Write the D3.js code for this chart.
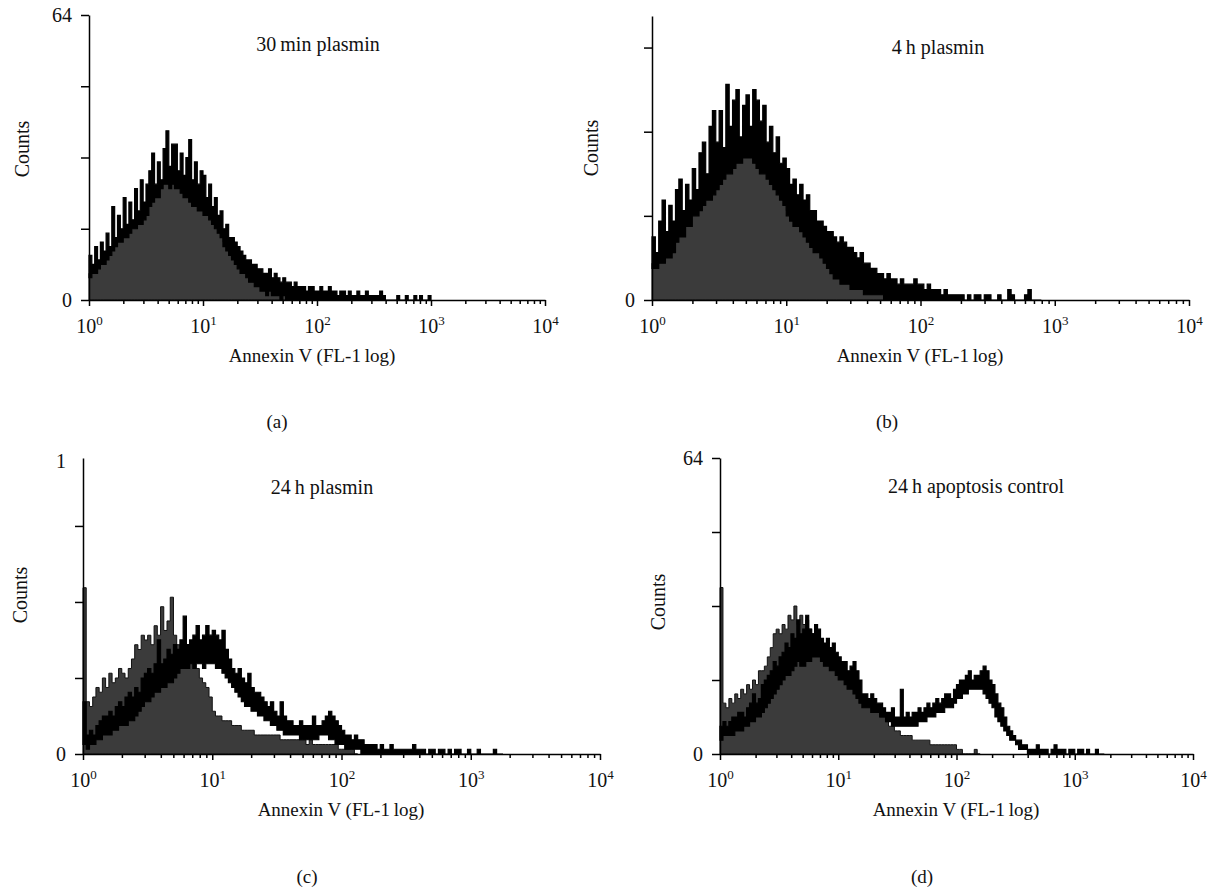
<!DOCTYPE html>
<html>
<head>
<meta charset="utf-8">
<script src="https://cdn.jsdelivr.net/npm/d3@7"></script>
<style>
  body { margin: 0; background: #fff; }
  svg text { font-family: "Liberation Serif", "Times New Roman", serif; fill: #111; }
</style>
</head>
<body>
<svg id="chart" width="1211" height="888"></svg>
<script>
// histogram channels: 40 bins per decade, bin i starts at 10^(i/40)
var binsPerDecade = 40;

// (a) 30 min plasmin
var aFill = [6,7,6,8,9,9,10,11,12,13, 14,14,15,16,16,17,17,18,18,19,
  21,22,23,24,25,26,27,27,27,27, 26,26,25,24,24,23,22,22,21,21,
  20,20,19,18,17,16,15,13,12,11, 10,9,8,7,7,6,5,5,4,4,
  3,3,2,3,2,2,2,1,2,1, 1,1,2,1,1,1,0,1,1,0, 1,0,0,1,0];
var aLineLo = [5,6,6,7,8,8,9,10,11,12, 13,13,14,14,15,16,16,17,17,18,
  19,21,22,23,23,25,26,26,25,26, 25,25,24,23,23,22,21,21,20,20,
  19,19,18,17,16,15,14,12,11,10, 9,8,7,6,6,5,4,4,3,3,
  2,2,1,2,1,1,1,0,1,0];
var aLineHi = [10,8,12,9,13,11,15,12,21,14, 19,16,23,17,22,18,25,20,27,22,
  26,29,33,26,31,27,34,38,30,35, 35,29,33,28,32,36,27,31,26,29,
  28,23,26,21,23,19,20,16,17,14, 14,13,12,11,10,9,9,8,8,7,
  7,6,6,7,5,6,5,4,5,4, 4,3,4,3,3,3,2,3,3,2,
  2,3,2,2,3,2,2,1,2,2, 1,2,1,1,2,1,1,2,1,1,
  1,1,2,1,0,0,0,0,1,0, 0,1,0,0,1,0,1,0,0,1];

// (b) 4 h plasmin
var bFill = [7,7,8,8,9,9,11,12,13,14, 15,16,17,17,18,19,20,20,21,22,
  23,24,25,26,26,27,28,28,28,28, 27,26,26,25,24,23,22,21,20,19,
  17,16,15,15,14,13,12,11,10,10, 9,8,7,6,5,5,4,4,4,3,
  3,3,3,2,2,2,2,2,2,1, 1,1,1,1,1,1,1,1,0,1, 0,1,0,0,0];
var bLineLo = [6,6,7,7,8,8,9,11,12,12, 14,14,16,16,17,18,19,19,20,21,
  22,23,24,24,25,26,26,27,27,27, 26,25,24,24,23,22,21,20,19,18,
  16,15,14,14,13,12,11,10,9,9, 8,7,6,5,4,4,3,3,3,2,
  2,2,2,1,1,1,1,1,1,0];
var bLineHi = [12,9,15,19,13,18,15,21,23,17, 22,19,25,21,28,30,24,33,36,30,
  36,29,41,33,38,40,31,37,39,33, 40,38,34,37,30,33,28,31,26,27,
  25,22,23,20,22,19,20,17,17,15, 15,14,13,13,12,11,12,11,10,10,
  9,8,9,7,7,6,6,5,5,4, 5,4,4,3,4,3,3,3,4,3,
  3,2,3,2,2,2,1,2,1,1, 1,1,1,0,1,0,1,1,0,1,
  1,0,0,1,0,0,2,1,0,0, 0,1,2,0,0,0];

// (c) 24 h plasmin
var cFill = [35,11,10,12,14,13,16,14,17,15, 16,18,17,16,18,20,23,22,25,24,
  25,23,27,25,31,26,28,33,25,23, 21,22,20,20,19,18,16,15,14,12,
  9,8,8,7,7,7,6,6,6,5, 5,5,5,4,4,4,4,4,4,4,
  4,3,3,3,3,3,3,3,3,2, 3,2,2,2,2,2,2,2,2,1, 1,1,1,1,0];
var cLineLo = [2,1,2,2,3,3,4,4,4,5, 5,6,6,6,7,7,8,9,10,11,
  11,12,13,13,14,14,15,15,16,17, 18,18,18,19,18,19,19,18,19,19,
  19,18,18,17,16,15,14,13,12,11, 10,10,9,9,8,8,7,7,6,6,
  5,5,4,4,4,4,4,3,3,3, 3,3,3,4,4,4,3,3,2,2, 2,1,1,1,1,1,0];
var cLineHi = [11,4,5,4,6,7,8,8,9,8, 10,11,10,12,13,12,14,13,16,17,
  18,17,19,24,19,20,22,21,23,22, 24,29,23,24,25,27,24,25,27,25,
  26,25,24,26,22,20,18,17,18,16, 15,17,14,13,13,12,11,10,11,9,
  8,11,8,7,7,6,6,7,6,6, 6,8,6,6,7,8,9,8,7,6,
  5,4,4,3,4,3,3,2,2,2, 2,1,2,1,1,2,1,1,1,1,
  1,1,2,1,1,1,0,1,1,0, 1,1,0,1,0,1,1,0,0,1,
  0,0,1,0,0,0,0,1,0,0];

// (d) 24 h apoptosis control
var dFill = [36,11,10,12,11,13,12,14,13,15, 14,16,15,18,18,19,21,23,26,27,
  26,28,27,30,29,32,28,30,28,29, 27,26,25,24,23,22,21,21,20,20,
  18,17,17,16,16,15,14,13,12,12, 11,10,10,9,8,8,7,6,6,5,
  5,4,4,4,4,3,3,3,3,3, 3,2,2,2,2,2,2,2,2,2, 1,1,0,0,0,0,1,0];
var dLineLo = [3,4,4,4,4,5,5,5,6,6, 7,7,8,8,9,10,11,12,13,14,
  15,16,17,17,18,19,20,19,19,20, 20,21,21,21,20,19,19,18,18,17,
  16,16,15,14,14,13,12,11,10,10, 10,9,9,9,8,8,7,7,6,6,
  6,6,6,6,6,6,6,7,7,7, 8,8,8,9,9,9,10,10,10,11,
  12,12,13,13,14,14,14,14,14,13, 12,11,10,8,7,6,5,4,3,3,
  2,1,1,1];
var dLineHi = [6,7,6,7,8,8,9,9,8,10, 11,13,11,12,15,16,17,18,20,19,
  21,22,24,23,26,25,29,26,27,30, 27,26,28,27,25,24,25,23,24,22,
  21,20,20,18,19,20,18,16,13,13, 12,13,12,11,11,10,9,9,10,8,
  8,14,8,9,8,9,9,10,9,10, 11,10,11,12,11,12,13,13,12,14,
  15,16,16,17,18,16,17,17,18,19, 18,16,15,13,11,10,8,6,5,4,
  3,3,2,2,1,1,1,2,1,1, 1,0,1,2,1,1,1,0,1,1,
  0,1,1,0,1,0,0,1,0,0];

var xDecades = [0, 1, 2, 3, 4];
var titles = ["30\u2009min plasmin", "4\u2009h plasmin", "24\u2009h plasmin", "24\u2009h apoptosis control"];
var letters = ["(a)", "(b)", "(c)", "(d)"];

// layout of the four panels
var panels = [
  { fill: aFill, lo: aLineLo, hi: aLineHi, left: 89, right: 545, bottom: 300, top: 15, yMax: 64,
    yTicks: [0, 16, 32, 48, 64], yLabels: { 0: "0", 64: "64" },
    title: [318, 51], counts: [22, 149], xlab: [312, 362], letter: [277, 428] },
  { fill: bFill, lo: bLineLo, hi: bLineHi, left: 652, right: 1189, bottom: 300, top: 16, yMax: 54,
    yTicks: [0, 16, 32, 48], yLabels: { 0: "0" },
    title: [938, 54], counts: [591, 148], xlab: [920, 362], letter: [887, 428] },
  { fill: cFill, lo: cLineLo, hi: cLineHi, left: 83, right: 600, bottom: 754, top: 458, yMax: 62.3,
    yTicks: [0, 16, 32, 48], yLabels: { 0: "0" }, topLabel: "1",
    title: [322, 494], counts: [20, 595], xlab: [341, 816], letter: [307, 883] },
  { fill: dFill, lo: dLineLo, hi: dLineHi, left: 720, right: 1193, bottom: 754, top: 458, yMax: 64,
    yTicks: [0, 16, 32, 48, 64], yLabels: { 0: "0", 64: "64" },
    title: [976, 493], counts: [658, 602], xlab: [956, 816], letter: [922, 883] }
];

var svg = d3.select("#chart");

function binStart(i) {
  return Math.pow(10, i / binsPerDecade);
}

function drawPanel(p, k) {
  var g = svg.append("g");

  var x = d3.scaleLog().domain([1, 1e4]).range([p.left, p.right]);
  var y = d3.scaleLinear().domain([0, p.yMax]).range([p.bottom, p.top]);

  // filled (control) histogram
  var fillPts = p.fill.map(function(v, i) { return { x: binStart(i), v: v }; });
  fillPts.push({ x: binStart(p.fill.length), v: 0 });

  var fillArea = d3.area()
    .curve(d3.curveStepAfter)
    .x(d => x(d.x))
    .y0(y(0))
    .y1(d => y(d.v));

  g.append("path")
    .datum(fillPts)
    .attr("d", fillArea)
    .attr("fill", "#3b3b3b")
    .attr("stroke", "#111")
    .attr("stroke-width", 1);

  // treated histogram, drawn as min/max band of the noisy trace
  var n = Math.max(p.lo.length, p.hi.length);
  var linePts = [];
  for (var i = 0; i < n; i++) {
    var lo = p.lo[i] || 0, hi = p.hi[i] || 0;
    linePts.push({ x: binStart(i), lo: Math.min(lo, hi), hi: Math.max(lo, hi) });
  }
  linePts.push({ x: binStart(n), lo: 0, hi: 0 });

  var band = d3.area()
    .curve(d3.curveStepAfter)
    .x(d => x(d.x))
    .y0(d => y(d.lo))
    .y1(d => y(d.hi));

  g.append("path")
    .datum(linePts)
    .attr("d", band)
    .attr("fill", "#000")
    .attr("stroke", "#000")
    .attr("stroke-width", 1.2)
    .attr("stroke-linejoin", "miter");

  // x axis: minor ticks then decades
  var minor = [];
  for (var e = 0; e < 4; e++) {
    for (var m = 2; m <= 9; m++) minor.push(m * Math.pow(10, e));
  }
  var xMinor = g.append("g")
    .attr("transform", `translate(0, ${p.bottom})`)
    .call(d3.axisBottom(x).tickValues(minor).tickSize(4).tickSizeOuter(0).tickFormat(""));
  xMinor.select(".domain").remove();

  var xMajor = g.append("g")
    .attr("transform", `translate(0, ${p.bottom})`)
    .call(d3.axisBottom(x).tickValues(xDecades.map(d => Math.pow(10, d))).tickSize(6).tickSizeOuter(0).tickFormat(""));

  xMajor.selectAll(".tick").each(function(d, i) {
    var t = d3.select(this).append("text")
      .attr("y", 33)
      .attr("text-anchor", "middle")
      .style("font-size", "20px");
    t.append("tspan").text("10");
    t.append("tspan").attr("dy", -8).style("font-size", "13px").text(xDecades[i]);
  });

  // y axis
  var yAxis = g.append("g")
    .attr("transform", `translate(${p.left}, 0)`)
    .call(d3.axisLeft(y).tickValues(p.yTicks).tickSize(8).tickSizeOuter(0).tickPadding(9)
      .tickFormat(d => p.yLabels[d] || ""));
  yAxis.selectAll("text").style("font-size", "20px");

  if (p.topLabel) {
    g.append("text")
      .attr("x", p.left - 17)
      .attr("y", y(p.yMax) + 4)
      .attr("dy", "0.32em")
      .attr("text-anchor", "end")
      .style("font-size", "20px")
      .text(p.topLabel);
  }

  g.selectAll(".domain, .tick line")
    .attr("stroke", "#000")
    .attr("stroke-width", 1.5);

  // texts
  g.append("text")
    .attr("x", p.title[0]).attr("y", p.title[1])
    .attr("text-anchor", "middle")
    .style("font-size", "20px")
    .text(titles[k]);

  g.append("text")
    .attr("transform", `translate(${p.counts[0]}, ${p.counts[1]}) rotate(-90)`)
    .attr("dy", "0.35em")
    .attr("text-anchor", "middle")
    .style("font-size", "20px")
    .text("Counts");

  g.append("text")
    .attr("x", p.xlab[0]).attr("y", p.xlab[1])
    .attr("text-anchor", "middle")
    .style("font-size", "19px")
    .text("Annexin V (FL-1\u2009log)");

  g.append("text")
    .attr("x", p.letter[0]).attr("y", p.letter[1])
    .attr("text-anchor", "middle")
    .style("font-size", "19px")
    .text(letters[k]);
}

panels.forEach(drawPanel);
</script>
</body>
</html>
